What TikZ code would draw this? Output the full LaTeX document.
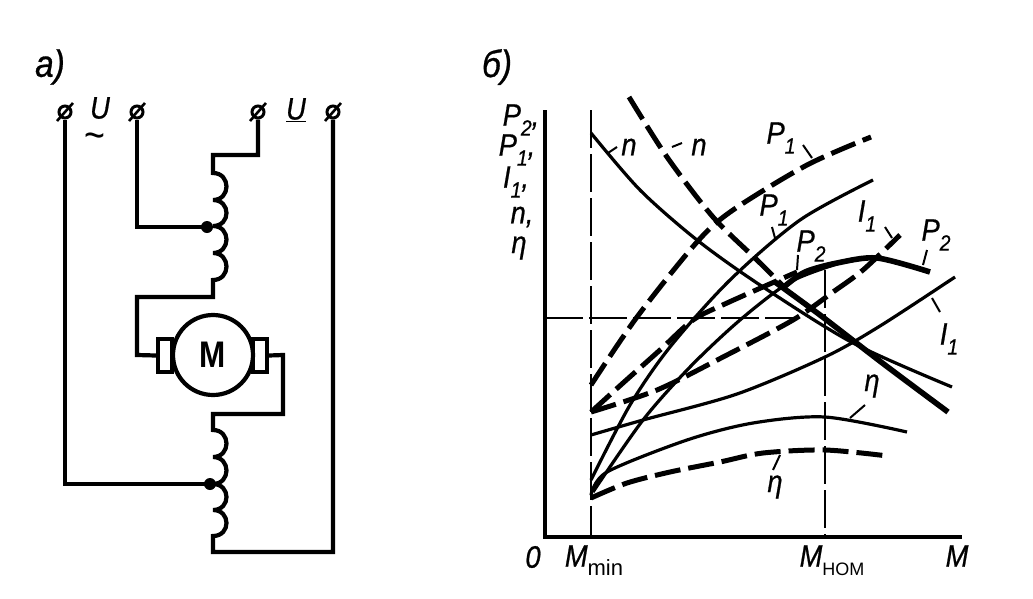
\documentclass[tikz,border=0pt]{standalone}
\usepackage{fontspec}
\setmainfont{Liberation Sans}
\newfontfamily\lf{Liberation Sans}[FakeStretch=0.88,FakeBold=0.7]
\newfontfamily\mf{Liberation Sans}[FakeStretch=0.85]
\newcommand{\sbt}[1]{\raisebox{-0.32em}[0pt][0pt]{\fontsize{22}{22}\selectfont #1}}
\newcommand{\sbu}[2]{\raisebox{-0.3em}[0pt][0pt]{\normalfont\fontsize{#1}{#1}\selectfont #2}}
\newcommand{\labfont}{\lf\fontsize{31}{31}\selectfont\itshape}
\tikzset{
  lab/.style={inner sep=0pt,font=\labfont},
  wire/.style={line width=4.2pt,line join=miter,line cap=butt},
  termin/.style={circle,draw,line width=3pt,minimum size=12pt,inner sep=0pt},
  slash/.style={line width=2.6pt},
  jdot/.style={circle,fill,inner sep=0pt,minimum size=12pt},
  thin curve/.style={line width=3.2pt},
  thick curve/.style={line width=5.6pt},
  dash curve/.style={line width=5pt,dash pattern=on 26pt off 8pt},
  guide/.style={line width=2.7pt,dash pattern=on 38pt off 6pt},
  tick/.style={line width=2pt},
  axis/.style={line width=4pt},
}
\begin{document}
\begin{tikzpicture}[x=1pt,y=-1pt]
\useasboundingbox (0,0) rectangle (1033,598);
% --- circuit ---
\node[lab,font=\lf\fontsize{38}{38}\selectfont\itshape] (la) at (50,67) {а)};
\node[termin] (t1) at (65,112) {};
\node[termin] (t2) at (137,112) {};
\node[termin] (t3) at (258,112) {};
\node[termin] (t4) at (333,112) {};
\foreach \t in {t1,t2,t3,t4}
  \draw[slash] ([shift={(-8,9)}]\t.center) -- ([shift={(8,-9)}]\t.center);
\node[lab] (u1) at (100,108) {U};
\node[lab,anchor=base,font=\mf\fontsize{42}{42}\selectfont] (tl) at (95,149) {\textasciitilde};
\node[lab] (u2) at (296,110) {\underline{U}};
\node[jdot] (d1) at (207,227) {};
\node[jdot] (d2) at (210,484) {};
\node[draw,wire,line width=3.6pt,minimum width=14pt,minimum height=33pt,inner sep=0pt] (bl) at (165,355.5) {};
\node[draw,wire,line width=3.6pt,minimum width=14pt,minimum height=33pt,inner sep=0pt] (br) at (260,355.5) {};
\node[circle,draw,wire,fill=white,minimum size=80pt,inner sep=0pt,font=\mf\fontsize{37}{37}\selectfont\bfseries] (mot) at (213,355) {М};
\draw[wire] (t1.south) -- (t1.south |- d2) -- (d2.center);
\draw[wire] (t2.south) -- (t2.south |- d1) -- (d1.center);
\draw[wire] (t3.south) -- (258,155) -- (213,155) -- (213,173)
  .. controls +(18,0) and +(18,0) .. (213,200)
  .. controls +(18,0) and +(18,0) .. (213,226)
  .. controls +(18,0) and +(18,0) .. (213,253)
  .. controls +(18,0) and +(18,0) .. (213,280)
  -- (213,297) -- (137,297) -- (137,355) -- (bl.west);
\draw[wire] (br.east) -- (283,355) -- (283,414) -- (213,414) -- (213,430)
  .. controls +(18,0) and +(18,0) .. (213,457)
  .. controls +(18,0) and +(18,0) .. (213,484)
  .. controls +(18,0) and +(18,0) .. (213,510)
  .. controls +(18,0) and +(18,0) .. (213,536)
  -- (213,552) -- (333,552) -- (t4.south);
% --- chart ---
\node[lab,font=\lf\fontsize{38}{38}\selectfont\itshape] (lb) at (497,67) {б)};
\coordinate (o) at (545,537);
\coordinate (ytop) at (545,110);
\coordinate (xend) at (962,537);
\draw[axis] (ytop) -- (o) -- (xend);
\draw[guide] (591,110) -- (591,537);
\draw[guide] (825,270) -- (825,537);
\draw[guide] (545,318) -- (800,318);
% n
\draw[thin curve] plot[smooth] coordinates {(591,133) (640,190) (697,240) (760,285) (853,343) (952,387)};
\draw[dash curve] plot[smooth] coordinates {(629,97) (667,157) (713,217) (757,260) (785,288)};
\draw[thick curve] plot[smooth] coordinates {(775,282) (820,315) (885,365) (948,412)};
% P1 dashed
\draw[dash curve] plot[smooth] coordinates {(591,385) (637,317) (697,242) (733,210) (807,165) (871,137)};
% P1 solid
\draw[thin curve] plot[smooth] coordinates {(591,480) (630,405) (670,347) (730,280) (800,220) (873,180)};
% P2 solid
\draw[thin curve] plot[smooth] coordinates {(593,492) (643,420) (690,367) (740,320) (790,282) (837,264)};
\draw[thick curve] plot[smooth] coordinates {(785,286) (805,272) (837,263) (877,258) (930,272)};
% I1 dashed
\draw[dash curve] plot[smooth] coordinates {(591,412) (657,390) (723,357) (793,320) (833,292) (863,270) (900,235)};
% P2 dashed
\draw[dash curve] plot[smooth] coordinates {(591,412) (623,383) (660,350) (693,320) (727,303) (797,272)};
% I1 solid
\draw[thin curve] plot[smooth] coordinates {(591,435) (643,420) (737,394) (825,357) (880,326) (955,277)};
% eta solid
\draw[thin curve] plot[smooth] coordinates {(591,495) (607,472) (687,440) (753,423) (825,417) (907,432)};
% eta dashed
\draw[dash curve] plot[smooth] coordinates {(591,498) (627,483) (670,472) (720,462) (763,453) (825,450) (888,456)};
% leaders
\draw[tick] (608,153) -- (617,147);
\draw[tick] (672,147) -- (682,143);
\draw[tick] (803,145) -- (812,158);
\draw[tick] (772,227) -- (775,238);
\draw[tick] (798,255) -- (797,270);
\draw[tick] (885,227) -- (892,238);
\draw[tick] (927,250) -- (923,265);
\draw[tick] (932,298) -- (940,312);
\draw[tick] (865,405) -- (850,418);
\draw[tick] (780,455) -- (773,470);
% labels
\node[lab] (ay1) at (521,117) {P\sbt{2},};
\node[lab] (ay2) at (517,147) {P\sbt{1},};
\node[lab] (ay3) at (516,179) {I\sbt{1},};
\node[lab] (ay4) at (522,217) {n,};
\node[lab] (ay5) at (519,248) {η};
\node[lab] (z0) at (533,557) {0};
\node[lab] (xm1) at (594,556) {M\sbu{22}{min}};
\node[lab] (xm2) at (832,556) {M\sbu{18}{НОМ}};
\node[lab] (xm) at (957,556) {M};
\node[lab] (n1) at (629,147) {n};
\node[lab] (n2) at (699,147) {n};
\node[lab] (p1a) at (781,133) {P\sbt{1}};
\node[lab] (p1b) at (774,205) {P\sbt{1}};
\node[lab] (p2a) at (811,241) {P\sbt{2}};
\node[lab] (i1a) at (867,211) {I\sbt{1}};
\node[lab] (p2b) at (936,230) {P\sbt{2}};
\node[lab] (i1b) at (949,334) {I\sbt{1}};
\node[lab] (e1) at (872,386) {η};
\node[lab] (e2) at (775,487) {η};
\end{tikzpicture}
\end{document}
